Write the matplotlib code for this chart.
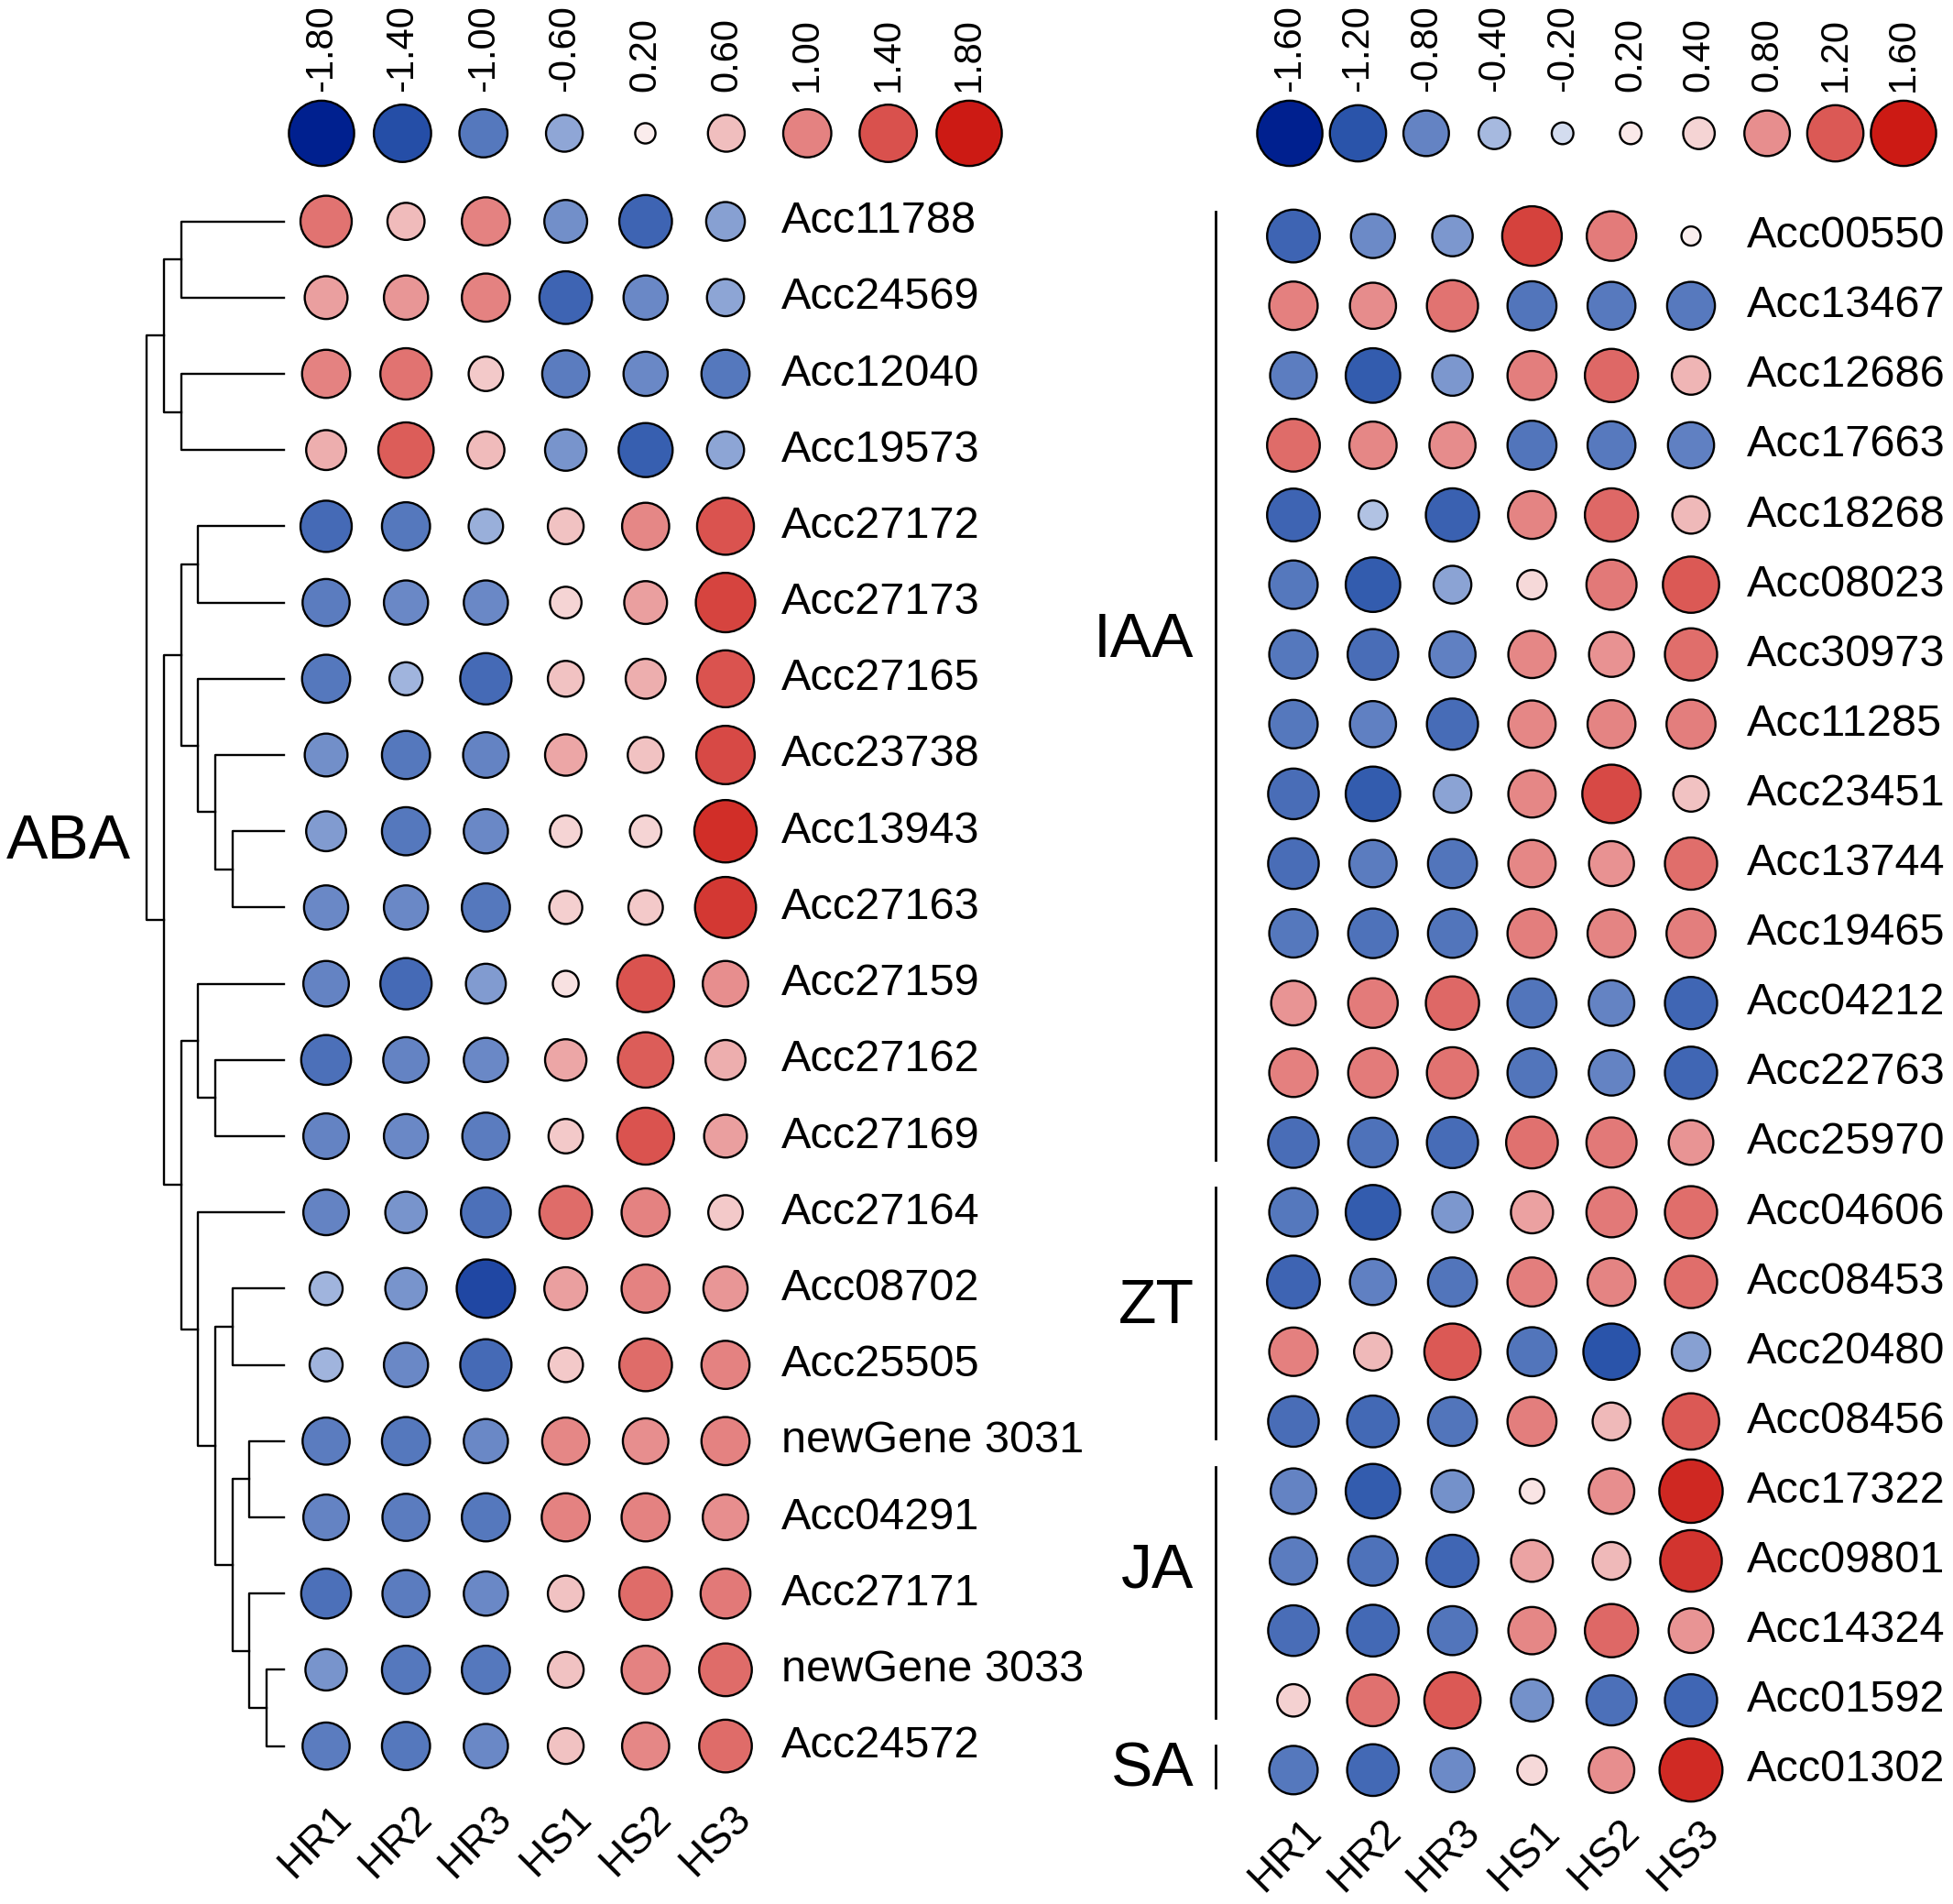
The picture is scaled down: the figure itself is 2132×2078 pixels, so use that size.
import numpy as np
import matplotlib.pyplot as plt
from matplotlib.colors import LinearSegmentedColormap

plt.rcParams['font.family'] = ['Liberation Sans', 'DejaVu Sans']

samples = ["HR1", "HR2", "HR3", "HS1", "HS2", "HS3"]

# ABA panel (clustered)
aba_genes = ["Acc11788", "Acc24569", "Acc12040", "Acc19573", "Acc27172", "Acc27173",
             "Acc27165", "Acc23738", "Acc13943", "Acc27163", "Acc27159", "Acc27162",
             "Acc27169", "Acc27164", "Acc08702", "Acc25505", "newGene 3031", "Acc04291",
             "Acc27171", "newGene 3033", "Acc24572"]
aba_values = [
    [1.13, 0.61, 1.00, -0.80, -1.19, -0.66],
    [0.80, 0.85, 1.00, -1.19, -0.85, -0.61],
    [1.00, 1.13, 0.53, -0.96, -0.85, -1.00],
    [0.70, 1.31, 0.61, -0.75, -1.25, -0.61],
    [-1.13, -1.00, -0.53, 0.57, 0.96, 1.38],
    [-0.96, -0.85, -0.85, 0.45, 0.80, 1.50],
    [-1.00, -0.49, -1.13, 0.57, 0.70, 1.38],
    [-0.80, -1.00, -0.90, 0.75, 0.57, 1.45],
    [-0.70, -1.00, -0.85, 0.45, 0.45, 1.65],
    [-0.85, -0.85, -1.00, 0.49, 0.53, 1.58],
    [-0.90, -1.13, -0.70, 0.31, 1.38, 0.90],
    [-1.07, -0.90, -0.85, 0.75, 1.31, 0.70],
    [-0.90, -0.85, -0.96, 0.53, 1.38, 0.80],
    [-0.90, -0.75, -1.07, 1.19, 1.00, 0.53],
    [-0.49, -0.75, -1.45, 0.80, 1.00, 0.85],
    [-0.49, -0.85, -1.13, 0.53, 1.19, 1.00],
    [-0.96, -1.00, -0.85, 0.96, 0.90, 1.00],
    [-0.90, -0.96, -1.00, 1.00, 1.00, 0.90],
    [-1.07, -0.96, -0.85, 0.57, 1.19, 1.07],
    [-0.75, -1.00, -1.00, 0.57, 1.00, 1.19],
    [-0.96, -1.00, -0.85, 0.57, 0.96, 1.19],
]
# row dendrogram: (child a, child b, level); ids >= 21 are earlier merges
aba_merges = [
    (0, 1, 6), (2, 3, 6), (21, 22, 7), (4, 5, 5), (8, 9, 3), (7, 25, 4),
    (6, 26, 5), (24, 27, 6), (11, 12, 4), (10, 29, 5), (14, 15, 3), (16, 17, 2),
    (19, 20, 1), (18, 33, 2), (32, 34, 3), (31, 35, 4), (13, 36, 5), (30, 37, 6),
    (28, 38, 7), (23, 39, 8),
]
aba_key = [-1.8, -1.4, -1.0, -0.6, 0.2, 0.6, 1.0, 1.4, 1.8]

# other hormones panel
oth_genes = ["Acc00550", "Acc13467", "Acc12686", "Acc17663", "Acc18268", "Acc08023",
             "Acc30973", "Acc11285", "Acc23451", "Acc13744", "Acc19465", "Acc04212",
             "Acc22763", "Acc25970", "Acc04606", "Acc08453", "Acc20480", "Acc08456",
             "Acc17322", "Acc09801", "Acc14324", "Acc01592", "Acc01302"]
oth_values = [
    [-1.06, -0.75, -0.64, 1.34, 0.94, 0.16],
    [0.90, 0.82, 1.00, -0.92, -0.88, -0.88],
    [-0.84, -1.13, -0.64, 0.92, 1.08, 0.58],
    [1.06, 0.86, 0.82, -0.92, -0.88, -0.82],
    [-1.06, -0.34, -1.08, 0.88, 1.08, 0.55],
    [-0.90, -1.13, -0.56, 0.35, 0.96, 1.20],
    [-0.90, -0.98, -0.82, 0.86, 0.78, 1.04],
    [-0.90, -0.82, -1.00, 0.86, 0.88, 0.92],
    [-0.98, -1.13, -0.56, 0.86, 1.29, 0.50],
    [-0.98, -0.86, -0.92, 0.86, 0.78, 1.04],
    [-0.90, -0.94, -0.92, 0.92, 0.88, 0.92],
    [0.77, 0.94, 1.08, -0.92, -0.80, -1.04],
    [0.90, 0.94, 1.00, -0.92, -0.80, -1.04],
    [-0.98, -0.94, -1.00, 1.02, 0.96, 0.77],
    [-0.90, -1.13, -0.64, 0.69, 0.96, 1.04],
    [-1.06, -0.82, -0.92, 0.92, 0.88, 1.04],
    [0.90, 0.56, 1.20, -0.92, -1.20, -0.58],
    [-0.98, -1.02, -0.92, 0.92, 0.56, 1.20],
    [-0.80, -1.13, -0.69, 0.25, 0.80, 1.51],
    [-0.86, -0.94, -1.04, 0.68, 0.56, 1.43],
    [-0.98, -1.02, -0.92, 0.86, 1.08, 0.77],
    [0.42, 1.02, 1.20, -0.69, -0.96, -1.04],
    [-0.90, -1.02, -0.75, 0.35, 0.80, 1.49],
]
groups = ["IAA", "ZT", "JA", "SA"]
group_sizes = [14, 4, 4, 1]
group_label_rows = [5.8, 15.35, 19.15, 22.0]
oth_key = [-1.6, -1.2, -0.8, -0.4, -0.2, 0.2, 0.4, 0.8, 1.2, 1.6]

# ---- style / layout ----
W, H, DPI = 2132, 2078, 100
MAX_D = 73.6  # outer circle diameter (px) at the colour-scale limit
EDGE = 1.7
cmap = LinearSegmentedColormap.from_list("bwr_pub", [
    (0.0, "#00208F"), (0.125, "#2A54AA"), (0.25, "#6383C3"), (0.375, "#A5B8DF"),
    (0.5, "#FFFFFF"), (0.625, "#F5D5D5"), (0.75, "#E78F8F"), (0.875, "#DB5955"),
    (1.0, "#CC1A14")])

fig = plt.figure(figsize=(W / DPI, H / DPI), dpi=DPI)


def px_axes(x0, x1, y0, y1):
    ax = fig.add_axes([x0 / W, 1 - y1 / H, (x1 - x0) / W, (y1 - y0) / H])
    ax.axis("off")
    return ax


def bubble_size(v, vmax):
    d = MAX_D * np.sqrt(np.abs(np.asarray(v)) / vmax) - EDGE * DPI / 72
    return (d * 72 / DPI) ** 2


def bubbles(ax, x, y, v, vmax):
    ax.scatter(x, y, s=bubble_size(v, vmax), c=v, cmap=cmap, vmin=-vmax, vmax=vmax,
               edgecolors="black", linewidths=EDGE, clip_on=False, zorder=3)


def grid(ax, values, genes, vmax, label_y, label_dx):
    vals = np.array(values)
    nr, nc = vals.shape
    xx, yy = np.meshgrid(np.arange(nc), np.arange(nr))
    bubbles(ax, xx.ravel(), yy.ravel(), vals.ravel(), vmax)
    ax.set_xlim(-0.5, nc - 0.5)
    ax.set_ylim(nr - 0.5, -0.5)
    for i, g in enumerate(genes):
        ax.text(nc - 1 + 0.7, i, g, fontsize=35, ha="left", va="center")
    for j, s in enumerate(samples):
        ax.text(j + label_dx, label_y, s, fontsize=33, rotation=45, ha="right", va="top")


def key(ax, vals, vmax):
    n = len(vals)
    bubbles(ax, np.arange(n), np.zeros(n), vals, vmax)
    ax.set_xlim(-0.5, n - 0.5)
    ax.set_ylim(1, -1)
    for i, v in enumerate(vals):
        ax.annotate(f"{v:.2f}", (i, 0), xytext=(0, 33), textcoords="offset points",
                    rotation=90, ha="center", va="bottom", fontsize=30)


# left panel
axl = px_axes(312.4, 835.6, 200, 1947.2)
grid(axl, aba_values, aba_genes, 1.8, 20.68, 0.42)

leaf_x, step = -0.53, 0.214
n = len(aba_genes)
pos = {i: (float(i), leaf_x) for i in range(n)}
for k, (a, b, level) in enumerate(aba_merges):
    xm = leaf_x - step * level
    ya, xa = pos[a]
    yb, xb = pos[b]
    axl.plot([xa, xm, xm, xb], [ya, ya, yb, yb], color="black", lw=1.7, clip_on=False)
    pos[n + k] = ((ya + yb) / 2, xm)
axl.text(pos[n + len(aba_merges) - 1][1] - 0.2, 8.14, "ABA", fontsize=49,
         ha="right", va="center")

key(px_axes(306.8, 1102.2, 95.5, 195.5), aba_key, 1.8)

# right panel
axr = px_axes(1368.6, 1889.4, 219.55, 1969.9)
grid(axr, oth_values, oth_genes, 1.6, 22.6, 0.45)
start = 0
for g, size, ly in zip(groups, group_sizes, group_label_rows):
    end = start + size - 1
    axr.plot([-0.98, -0.98], [start - 0.35, end + 0.25], color="black", lw=2, clip_on=False)
    axr.text(-1.25, ly, g, fontsize=49, ha="right", va="center")
    start += size

key(px_axes(1370.8, 2115.2, 95.5, 195.5), oth_key, 1.6)

fig.savefig("out.png", dpi=DPI)
